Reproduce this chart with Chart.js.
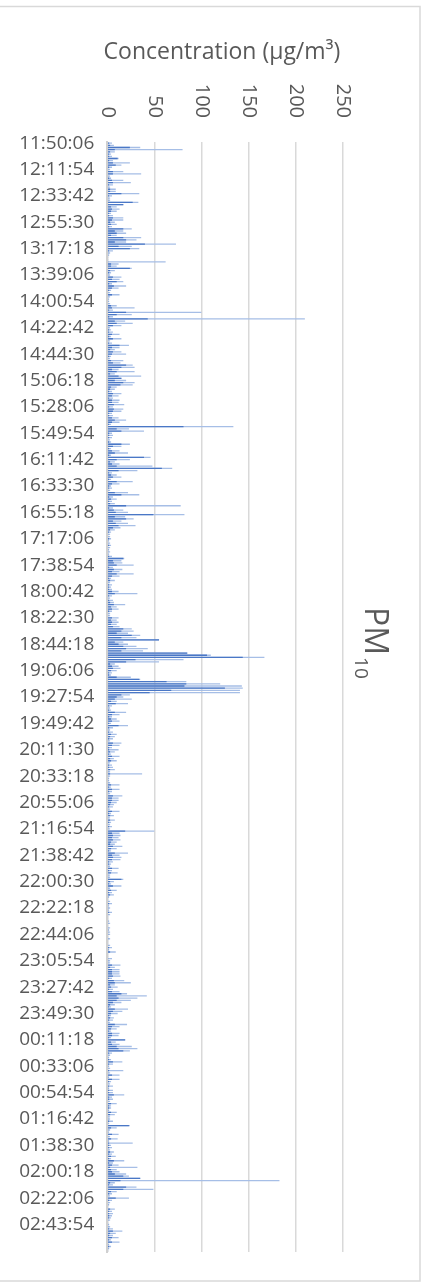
<!DOCTYPE html>
<html>
<head>
<meta charset="utf-8">
<script src="https://cdn.jsdelivr.net/npm/chart.js@4/dist/chart.umd.min.js"></script>
<style>
  html, body { margin: 0; padding: 0; background: #fff; }
  canvas { display: block; }
</style>
</head>
<body>
<canvas id="chart" width="429" height="1285"></canvas>
<script>
// start of record and spacing between bars (seconds) -- 12 bars per axis label
const startTime = '11:50:06';
const stepSeconds = 109;

// axis labels shown on the category axis (every 21:48)
const tickLabels = [
  '11:50:06', '12:11:54', '12:33:42', '12:55:30', '13:17:18', '13:39:06', '14:00:54',
  '14:22:42', '14:44:30', '15:06:18', '15:28:06', '15:49:54', '16:11:42', '16:33:30',
  '16:55:18', '17:17:06', '17:38:54', '18:00:42', '18:22:30', '18:44:18', '19:06:06',
  '19:27:54', '19:49:42', '20:11:30', '20:33:18', '20:55:06', '21:16:54', '21:38:42',
  '22:00:30', '22:22:18', '22:44:06', '23:05:54', '23:27:42', '23:49:30', '00:11:18',
  '00:33:06', '00:54:54', '01:16:42', '01:38:30', '02:00:18', '02:22:06', '02:43:54'
];

const xTicks = [0, 50, 100, 150, 200, 250];

// PM10 peaks (µg/m³), one per bar
const pm10Peak = [
  5, 7, 35, 80, 8, 4, 5, 12, 6, 24,
  15, 5, 3, 17, 36, 3, 4, 17, 25, 6,
  3, 9, 9, 34, 5, 3, 3, 33, 17, 10,
  13, 10, 4, 6, 17, 17, 8, 10, 5, 26,
  17, 20, 10, 36, 31, 20, 73, 26, 34, 6,
  3, 2, 1, 1, 62, 12, 10, 26, 8, 4,
  3, 15, 13, 17, 5, 20, 12, 4, 3, 13,
  3, 2, 2, 3, 10, 29, 6, 100, 26, 6,
  210, 19, 27, 15, 3, 4, 6, 13, 4, 15,
  3, 5, 23, 13, 8, 15, 20, 4, 3, 17,
  14, 27, 29, 12, 29, 8, 36, 15, 20, 29,
  27, 10, 8, 5, 15, 12, 6, 13, 12, 18,
  6, 17, 15, 5, 6, 12, 20, 13, 4, 134,
  23, 39, 5, 6, 5, 3, 4, 24, 15, 4,
  13, 22, 4, 46, 24, 8, 13, 48, 69, 32,
  5, 10, 15, 4, 27, 13, 4, 5, 3, 22,
  34, 6, 10, 5, 8, 78, 6, 17, 22, 82,
  19, 28, 15, 22, 30, 14, 8, 4, 3, 3,
  4, 2, 3, 4, 3, 2, 3, 2, 5, 18,
  15, 16, 28, 6, 16, 13, 28, 13, 4, 8,
  3, 5, 4, 5, 12, 32, 5, 3, 6, 7,
  19, 10, 12, 5, 3, 3, 12, 10, 12, 10,
  13, 26, 28, 22, 35, 31, 55, 17, 22, 31,
  43, 38, 85, 110, 167, 81, 55, 8, 12, 14,
  10, 5, 4, 25, 35, 84, 120, 143, 144, 141,
  141, 24, 17, 26, 10, 22, 5, 3, 4, 20,
  13, 5, 10, 13, 4, 22, 6, 3, 6, 10,
  8, 6, 3, 15, 13, 5, 12, 8, 4, 13,
  7, 10, 3, 5, 6, 8, 3, 37, 3, 2,
  2, 3, 13, 4, 13, 5, 3, 16, 12, 12,
  10, 7, 6, 3, 13, 4, 7, 3, 8, 4,
  3, 5, 3, 50, 13, 14, 12, 14, 10, 8,
  16, 10, 4, 22, 13, 15, 14, 6, 4, 3,
  12, 5, 11, 3, 3, 17, 7, 4, 15, 3,
  10, 5, 7, 2, 1, 3, 5, 2, 3, 2,
  5, 3, 1, 1, 2, 3, 1, 3, 2, 3,
  3, 1, 3, 1, 1, 3, 5, 2, 9, 1,
  1, 5, 3, 3, 14, 8, 13, 13, 13, 14,
  5, 18, 25, 8, 11, 6, 13, 21, 42, 32,
  25, 15, 8, 4, 22, 16, 11, 4, 7, 6,
  3, 21, 13, 10, 4, 13, 12, 4, 19, 9,
  13, 26, 32, 24, 5, 3, 2, 4, 16, 6,
  2, 3, 17, 3, 13, 2, 13, 4, 3, 6,
  2, 6, 6, 18, 5, 6, 3, 10, 4, 4,
  2, 10, 8, 3, 3, 6, 2, 24, 10, 3,
  2, 12, 3, 11, 2, 27, 4, 5, 3, 7,
  5, 9, 4, 18, 6, 12, 32, 10, 13, 20,
  23, 35, 183, 8, 6, 31, 49, 10, 5, 3,
  23, 5, 3, 2, 1, 8, 5, 6, 5, 4,
  3, 1, 2, 3, 6, 16, 9, 6, 12, 4,
  13, 2, 4, 2, 1
];

// darker core of each bar (typical level in the same interval)
const pm10Core = [
  2, 3, 24, 8, 3, 2, 2, 11, 2, 6,
  9, 2, 1, 6, 6, 1, 2, 5, 6, 2,
  1, 3, 3, 15, 2, 1, 1, 27, 17, 4,
  5, 4, 2, 2, 6, 5, 3, 4, 2, 17,
  8, 10, 4, 17, 20, 8, 40, 12, 24, 2,
  1, 1, 0, 0, 1, 4, 4, 24, 3, 2,
  1, 6, 5, 10, 2, 7, 5, 2, 1, 5,
  1, 1, 1, 1, 4, 5, 2, 20, 10, 2,
  43, 8, 10, 6, 1, 2, 2, 5, 2, 6,
  1, 2, 13, 5, 3, 6, 5, 2, 1, 4,
  6, 20, 15, 5, 10, 3, 12, 15, 8, 17,
  14, 4, 3, 2, 6, 5, 2, 5, 5, 7,
  2, 7, 6, 2, 2, 5, 8, 5, 2, 81,
  10, 15, 2, 2, 2, 1, 2, 15, 6, 2,
  5, 8, 2, 39, 10, 3, 5, 10, 58, 12,
  2, 4, 6, 2, 10, 5, 2, 2, 1, 8,
  15, 2, 4, 2, 3, 20, 2, 7, 9, 49,
  8, 20, 6, 9, 12, 6, 3, 2, 1, 1,
  2, 1, 1, 2, 1, 1, 1, 1, 2, 17,
  6, 7, 10, 2, 7, 5, 10, 5, 2, 3,
  1, 2, 2, 2, 5, 8, 2, 1, 2, 3,
  7, 4, 5, 2, 1, 1, 5, 4, 5, 4,
  6, 17, 15, 10, 26, 15, 55, 8, 12, 17,
  20, 15, 85, 106, 144, 30, 20, 3, 5, 6,
  4, 2, 2, 10, 34, 63, 84, 82, 125, 68,
  45, 15, 10, 8, 4, 9, 2, 1, 2, 8,
  5, 2, 4, 5, 2, 12, 2, 1, 2, 4,
  3, 2, 1, 6, 5, 2, 2, 3, 2, 5,
  3, 4, 1, 2, 2, 3, 1, 3, 1, 1,
  1, 1, 4, 2, 5, 2, 1, 6, 5, 5,
  4, 3, 2, 1, 5, 2, 3, 1, 3, 2,
  1, 2, 1, 19, 5, 6, 5, 6, 4, 3,
  6, 4, 2, 8, 5, 6, 5, 2, 2, 1,
  5, 2, 4, 1, 1, 15, 3, 2, 6, 1,
  4, 2, 3, 1, 0, 1, 2, 1, 1, 1,
  2, 1, 0, 0, 1, 1, 0, 1, 1, 1,
  1, 0, 1, 0, 0, 1, 2, 1, 3, 0,
  0, 1, 1, 1, 5, 3, 5, 5, 5, 6,
  2, 7, 8, 3, 4, 2, 5, 15, 10, 12,
  10, 6, 3, 2, 8, 6, 4, 2, 3, 2,
  1, 8, 5, 4, 2, 5, 5, 2, 19, 4,
  5, 10, 12, 17, 2, 1, 1, 2, 6, 2,
  1, 1, 2, 1, 5, 1, 5, 2, 1, 2,
  1, 2, 2, 7, 2, 2, 1, 4, 2, 2,
  1, 4, 3, 1, 1, 2, 1, 23, 4, 1,
  1, 5, 1, 4, 1, 2, 2, 2, 1, 3,
  2, 4, 2, 7, 2, 5, 3, 4, 5, 8,
  17, 35, 14, 3, 2, 20, 17, 4, 2, 1,
  9, 2, 1, 1, 0, 3, 2, 2, 2, 2,
  1, 0, 1, 1, 2, 6, 3, 2, 5, 2,
  5, 1, 2, 1, 0
];

// one category per bar: hh:mm:ss from the start time
const toSec = t => t.split(':').reduce((a, p) => a * 60 + Number(p), 0);
const pad = n => String(n).padStart(2, '0');
const categories = pm10Peak.map((_, i) => {
  const s = (toSec(startTime) + i * stepSeconds) % 86400;
  return pad(Math.floor(s / 3600)) + ':' + pad(Math.floor(s / 60) % 60) + ':' + pad(s % 60);
});

const textColor = '#595959';
const fontFamily = '"Open Sans", "Noto Sans", sans-serif';

// title, rotated value labels, PM10 label and outer frame
const decor = {
  id: 'decor',
  afterDraw(chart) {
    const ctx = chart.ctx;
    const xs = chart.scales.x;
    ctx.save();
    ctx.fillStyle = textColor;

    ctx.font = '23px ' + fontFamily;
    ctx.textAlign = 'center';
    ctx.textBaseline = 'alphabetic';
    ctx.fillText('Concentration (µg/m³)', 222, 59);

    ctx.font = '20px ' + fontFamily;
    xTicks.forEach(v => {
      ctx.save();
      ctx.translate(xs.getPixelForValue(v), 118);
      ctx.rotate(Math.PI / 2);
      ctx.textAlign = 'right';
      ctx.textBaseline = 'middle';
      ctx.fillText(String(v), 0, 0);
      ctx.restore();
    });

    ctx.save();
    ctx.translate(365, 607);
    ctx.rotate(Math.PI / 2);
    ctx.textAlign = 'left';
    ctx.textBaseline = 'alphabetic';
    ctx.font = '32px ' + fontFamily;
    ctx.fillText('PM', 0, 0);
    const w = ctx.measureText('PM').width;
    ctx.font = '19px ' + fontFamily;
    ctx.fillText('10', w + 2, 10);
    ctx.restore();

    ctx.strokeStyle = '#d9d9d9';
    ctx.lineWidth = 1.5;
    ctx.strokeRect(-2, 6.5, 422, 1274.5);
    ctx.restore();
  }
};

new Chart(document.getElementById('chart'), {
  type: 'bar',
  data: {
    labels: categories,
    datasets: [
      {
        label: 'PM10 core',
        data: pm10Core,
        backgroundColor: '#4a77c6',
        grouped: false,
        barPercentage: 0.6,
        categoryPercentage: 1
      },
      {
        label: 'PM10',
        data: pm10Peak,
        backgroundColor: '#a6bee6',
        grouped: false,
        barPercentage: 0.6,
        categoryPercentage: 1
      }
    ]
  },
  options: {
    indexAxis: 'y',
    responsive: false,
    animation: false,
    layout: { padding: { top: 142, right: 86.5, bottom: 33, left: 0 } },
    plugins: { legend: { display: false }, tooltip: { enabled: false } },
    scales: {
      x: {
        position: 'top',
        min: 0,
        max: 250,
        ticks: { display: false, stepSize: 50 },
        grid: { color: '#d9d9d9', lineWidth: 1.5, drawTicks: false },
        border: { display: false },
        afterFit(scale) { scale.height = 0; }
      },
      y: {
        ticks: {
          autoSkip: false,
          padding: 13,
          color: textColor,
          font: { family: fontFamily, size: 19 },
          callback: (v, i) => (i % 12 === 0 ? tickLabels[i / 12] : '')
        },
        grid: { display: false, drawTicks: false },
        border: { display: true, color: '#d0d0d0', width: 2 },
        afterFit(scale) { scale.width = 107.3; }
      }
    }
  },
  plugins: [decor]
});
</script>
</body>
</html>
